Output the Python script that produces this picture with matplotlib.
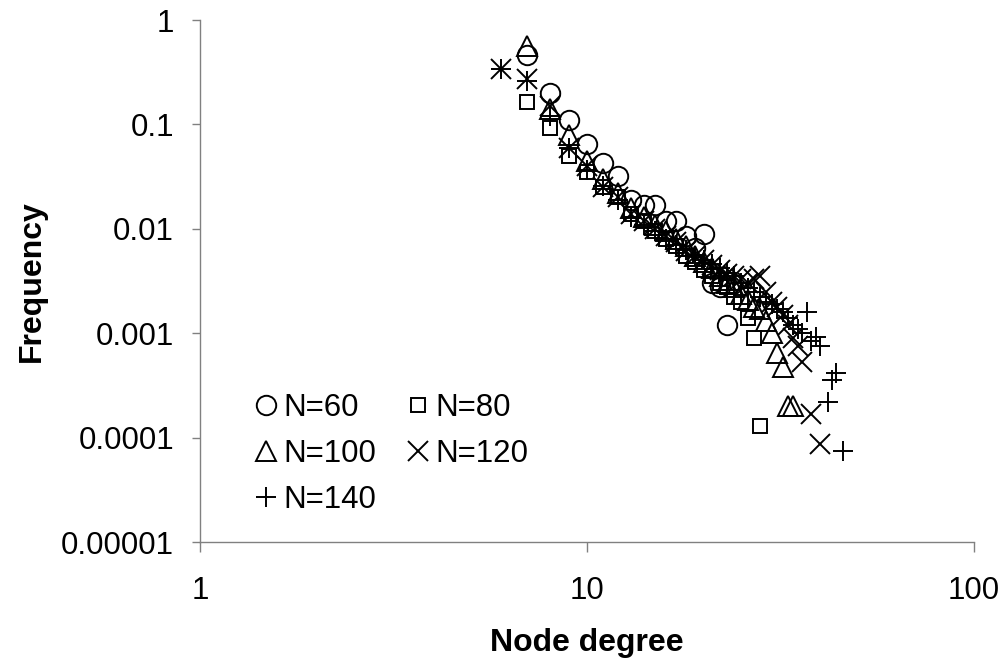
import matplotlib
matplotlib.use('Agg')
import matplotlib.pyplot as plt

plt.rcParams['font.family'] = ['Liberation Sans', 'DejaVu Sans']

# degree distributions
deg60 = [7, 8, 9, 10, 11, 12, 13, 14, 15, 16, 17, 18, 19, 20, 21, 22, 23]
freq60 = [0.46, 0.2, 0.11, 0.065, 0.043, 0.032, 0.019, 0.017, 0.017, 0.012, 0.012,
          0.0085, 0.0065, 0.009, 0.003, 0.0028, 0.0012]

deg80 = [7, 8, 9, 10, 11, 12, 13, 14, 15, 16, 17, 18, 19, 20, 21, 22, 23, 24, 25, 26, 27, 28]
freq80 = [0.165, 0.093, 0.05, 0.035, 0.025, 0.02, 0.014, 0.012, 0.0095, 0.008, 0.0068,
          0.0055, 0.0048, 0.004, 0.0035, 0.003, 0.0028, 0.0022, 0.002, 0.0014, 0.0009, 0.00013]

deg100 = [7, 8, 9, 10, 11, 12, 13, 14, 15, 16, 17, 18, 19, 20, 21, 22, 23, 24, 25, 26,
          27, 28, 29, 30, 31, 32, 33, 34]
freq100 = [0.57, 0.14, 0.08, 0.045, 0.03, 0.022, 0.016, 0.013, 0.011, 0.0095, 0.008,
           0.0068, 0.0055, 0.0048, 0.0042, 0.0035, 0.003, 0.0028, 0.0024, 0.0021, 0.0018,
           0.0017, 0.0013, 0.001, 0.00065, 0.00048, 0.0002, 0.0002]

deg120 = [6, 7, 8, 9, 10, 11, 12, 13, 14, 15, 16, 17, 18, 19, 20, 21, 22, 23, 24, 25,
          26, 27, 28, 29, 30, 31, 32, 33, 34, 35, 36, 38, 40]
freq120 = [0.34, 0.27, 0.15, 0.06, 0.04, 0.025, 0.02, 0.014, 0.012, 0.01, 0.0085, 0.0075,
           0.0062, 0.0055, 0.005, 0.0045, 0.004, 0.0037, 0.0035, 0.0033, 0.003, 0.0033,
           0.0035, 0.0025, 0.002, 0.0018, 0.0015, 0.0012, 0.0009, 0.00075, 0.00053,
           0.00017, 0.000087]

deg140 = [6, 7, 8, 9, 10, 11, 12, 13, 14, 15, 16, 17, 18, 19, 20, 21, 22, 23, 24, 25,
          26, 27, 28, 29, 30, 31, 32, 33, 34, 35, 36, 37, 38, 39, 40, 42, 43, 44, 46]
freq140 = [0.34, 0.26, 0.12, 0.06, 0.037, 0.026, 0.019, 0.013, 0.011, 0.0095, 0.008,
           0.007, 0.0063, 0.0055, 0.005, 0.0046, 0.0042, 0.0038, 0.0035, 0.003, 0.0027,
           0.0025, 0.0022, 0.002, 0.0019, 0.0017, 0.0016, 0.0014, 0.0012, 0.0011, 0.001,
           0.0016, 0.00085, 0.00093, 0.00075, 0.00022, 0.00036, 0.00042, 0.000074]

fig = plt.figure(figsize=(10.03, 6.59), dpi=100)
ax = fig.add_axes([0.1994, 0.1775, 0.7717, 0.7921])

kw = dict(linestyle='none', color='black', markerfacecolor='none', markeredgewidth=1.4)
h60, = ax.plot(deg60, freq60, marker='o', markersize=14, label='N=60', **kw)
h80, = ax.plot(deg80, freq80, marker='s', markersize=10.5, label='N=80', **kw)
h100, = ax.plot(deg100, freq100, marker='^', markersize=15, label='N=100', **kw)
h120, = ax.plot(deg120, freq120, marker='x', markersize=14, label='N=120', **kw)
h140, = ax.plot(deg140, freq140, marker='+', markersize=15, label='N=140', **kw)

ax.set_xscale('log')
ax.set_yscale('log')
ax.set_xlim(1, 100)
ax.set_ylim(0.00001, 1)
ax.set_xticks([1, 10, 100])
ax.set_xticklabels(['1', '10', '100'])
ax.set_yticks([0.00001, 0.0001, 0.001, 0.01, 0.1, 1])
ax.set_yticklabels(['0.00001', '0.0001', '0.001', '0.01', '0.1', '1'])
ax.minorticks_off()
ax.tick_params(axis='x', direction='out', length=7.2, width=1, color='#808080',
               labelsize=22.5, pad=17)
ax.tick_params(axis='y', direction='out', length=5.8, width=1, color='#808080',
               labelsize=22.5, pad=13)

for s in ['top', 'right']:
    ax.spines[s].set_visible(False)
for s in ['left', 'bottom']:
    ax.spines[s].set_color('#808080')
    ax.spines[s].set_linewidth(1)

ax.set_xlabel('Node degree', fontsize=23, fontweight='bold', labelpad=16)
ax.set_ylabel('Frequency', fontsize=23, fontweight='bold', labelpad=10)

# legend filled row by row as in the original
hs = [h60, h100, h140, h80, h120]
lgd = ax.legend(handles=hs, loc='upper left', bbox_to_anchor=(0.0685, 0.285), ncol=2,
                frameon=False, fontsize=22.5, markerscale=1.0, handlelength=0.8,
                handletextpad=0.16, columnspacing=0.95, labelspacing=0.51,
                borderpad=0, borderaxespad=0)

plt.savefig('out.png', dpi=100)
